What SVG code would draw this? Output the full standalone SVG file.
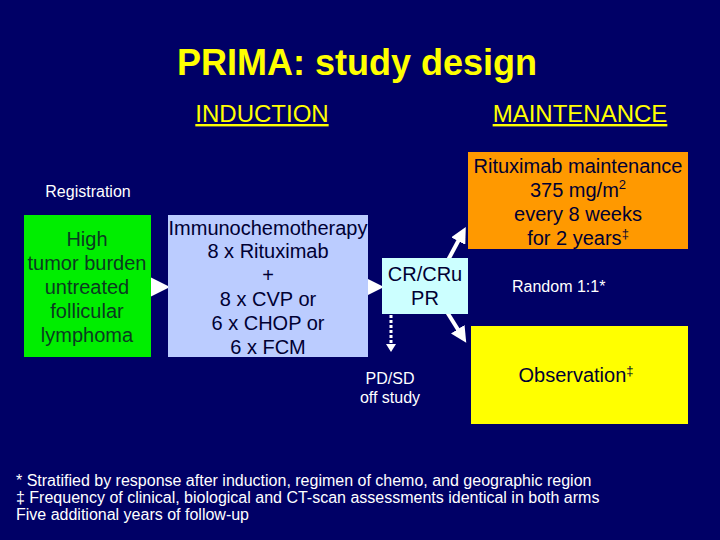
<svg xmlns="http://www.w3.org/2000/svg" width="720" height="540" viewBox="0 0 720 540">
<style>
text{font-family:"Liberation Sans",Arial,sans-serif}
.w{fill:#ffffff;font-size:16px}
.box{font-size:20px;text-anchor:middle}
.hd{fill:#ffff00;font-size:24px;text-decoration:underline}
.arr{stroke:#ffffff;stroke-width:4;fill:none}
</style>
<defs>
<marker id="ah" markerWidth="4" markerHeight="4" refX="2" refY="2" orient="auto" markerUnits="strokeWidth">
<path d="M0,0 L4,2 L0,4 z" fill="#ffffff"/>
</marker>
<marker id="ahs" markerWidth="5" markerHeight="5" refX="2.5" refY="2.5" orient="auto" markerUnits="strokeWidth">
<path d="M0,0 L5,2.5 L0,5 z" fill="#ffffff"/>
</marker>
</defs>
<rect width="720" height="540" fill="#000066"/>
<text x="357" y="75" text-anchor="middle" font-size="36" font-weight="bold" fill="#ffff00">PRIMA: study design</text>
<text class="hd" x="262" y="122" text-anchor="middle">INDUCTION</text>
<text class="hd" x="580" y="122" text-anchor="middle">MAINTENANCE</text>
<text class="w" x="88" y="197" text-anchor="middle">Registration</text>

<g id="connectors">
<path class="arr" d="M152,287 L160,287" marker-end="url(#ahs)"/>
<path class="arr" d="M369,287 L374,287" marker-end="url(#ahs)"/>
<path class="arr" d="M447,262 L462,234" marker-end="url(#ah)"/>
<path class="arr" d="M447,312 L462,336" marker-end="url(#ah)"/>
<path d="M391,315 L391,345" stroke="#ffffff" stroke-width="3" stroke-dasharray="3,2" fill="none"/>
<path d="M386,344 L396,344 L391,352 z" fill="#ffffff"/>
</g>

<g id="registration">
<rect x="24" y="215" width="127" height="142" fill="#00ee00"/>
<text class="box" fill="#0b3a20"><tspan x="87" y="246">High</tspan><tspan x="87" y="270">tumor burden</tspan><tspan x="87" y="294">untreated</tspan><tspan x="87" y="318">follicular</tspan><tspan x="87" y="342">lymphoma</tspan></text>
</g>

<g id="induction">
<rect x="168" y="215" width="200" height="142" fill="#bbccff"/>
<text class="box" fill="#000033"><tspan x="268" y="235">Immunochemotherapy</tspan><tspan x="268" y="258">8 x Rituximab</tspan><tspan x="268" y="282">+</tspan><tspan x="268" y="306">8 x CVP or</tspan><tspan x="268" y="330">6 x CHOP or</tspan><tspan x="268" y="354">6 x FCM</tspan></text>
</g>

<g id="response">
<rect x="382" y="258" width="86" height="56" fill="#ccffff"/>
<text class="box" fill="#000033"><tspan x="425" y="281">CR/CRu</tspan><tspan x="425" y="305">PR</tspan></text>
</g>

<g id="offstudy">
<text class="w" x="390" y="384" text-anchor="middle">PD/SD</text>
<text class="w" x="390" y="403" text-anchor="middle">off study</text>
</g>

<g id="maintenance">
<rect x="468" y="152" width="220" height="97" fill="#ff9900"/>
<text class="box" fill="#000033"><tspan x="578" y="173">Rituximab maintenance</tspan><tspan x="578" y="197">375 mg/m<tspan font-size="13" dy="-8">2</tspan></tspan><tspan x="578" y="221">every 8 weeks</tspan><tspan x="578" y="245">for 2 years<tspan font-size="13" dy="-7">‡</tspan></tspan></text>
</g>

<text class="w" x="512" y="292">Random 1:1*</text>

<g id="observation">
<rect x="471" y="326" width="217" height="98" fill="#ffff00"/>
<text class="box" fill="#000033" x="576" y="382">Observation<tspan font-size="13" dy="-7">‡</tspan></text>
</g>

<g id="footnotes">
<text class="w" x="16" y="486">* Stratified by response after induction, regimen of chemo, and geographic region</text>
<text class="w" x="16" y="503">‡ Frequency of clinical, biological and CT-scan assessments identical in both arms</text>
<text class="w" x="16" y="520">Five additional years of follow-up</text>
</g>
</svg>
